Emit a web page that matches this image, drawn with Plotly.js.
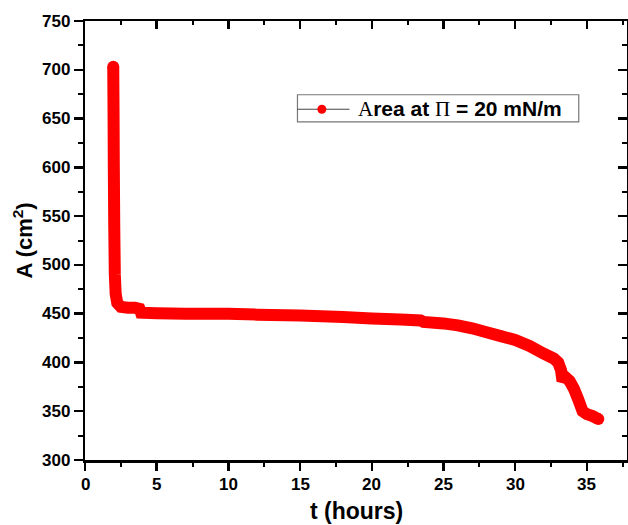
<!DOCTYPE html>
<html>
<head>
<meta charset="utf-8">
<script src="https://cdn.plot.ly/plotly-3.0.1.min.js"></script>
<style>
html,body{margin:0;padding:0;background:#fff;}
#chart{width:628px;height:525px;}
</style>
</head>
<body>
<div id="chart"></div>
<script>
// Data
const timeHours = [1.97, 1.99, 2.01, 2.04, 2.08, 2.14, 2.25, 2.5, 3.0, 3.5, 3.8, 3.9, 5, 7, 10, 12, 15, 18, 20, 22, 23.4, 23.6, 25, 26, 27, 28, 29, 30, 31, 32, 32.7, 33.0, 33.2, 33.3, 33.5, 33.8, 34.1, 34.4, 34.7, 35.0, 35.4, 35.8];
const areaCm2   = [703, 660, 600, 540, 490, 470, 461, 457, 456, 456, 455, 451, 450.5, 450, 450, 449, 448, 446.5, 445, 444, 443, 441.5, 440, 438, 435, 431, 427, 423, 417, 409, 404, 400, 392, 381, 385, 381, 373, 362, 350, 347, 345, 342];
const xTickVals = [0, 5, 10, 15, 20, 25, 30, 35];
const yTickVals = [300, 350, 400, 450, 500, 550, 600, 650, 700, 750];
const xTitle = 't (hours)';
const yTitle = 'A (cm<sup>2</sup>)';
const legendLabel = '<span style="font-family:\'Liberation Serif\',serif;font-weight:normal">A</span>rea at <span style="font-family:\'Liberation Serif\',serif;font-weight:normal">Π</span> = 20 mN/m';

const red = '#ff0000';
const sans = 'Arial, Liberation Sans, sans-serif';
const lastIdx = timeHours.length - 1;
const markerSizes = timeHours.map((_, i) => (i === 0 || i === lastIdx) ? 12 : 0);

const traces = [
  {
    x: timeHours, y: areaCm2, type: 'scatter', mode: 'lines+markers',
    line: {color: red, width: 12, shape: 'linear', simplify: false},
    marker: {color: red, size: markerSizes, opacity: 1, line: {width: 0}},
    showlegend: false, hoverinfo: 'skip'
  },
  {
    x: [], y: [], xaxis: 'x2', yaxis: 'y2', type: 'scatter', mode: 'markers',
    showlegend: false, hoverinfo: 'skip'
  }
];

const axisCommon = {
  showline: true, linecolor: '#000', linewidth: 2.5,
  showgrid: false, zeroline: false, showticklabels: false
};

// bold tick labels placed on the library's own axis scales
const tickFontB = {family: sans, size: 17, color: '#000'};
const xTickAnn = xTickVals.map(v => ({
  xref: 'x', yref: 'paper', x: v, y: 0, xanchor: 'center', yanchor: 'top', yshift: -13,
  showarrow: false, text: '<b>' + v + '</b>', font: tickFontB
}));
const yTickAnn = yTickVals.map(v => ({
  xref: 'paper', yref: 'y', x: 0, y: v, xanchor: 'right', yanchor: 'middle', xshift: -13,
  showarrow: false, text: '<b>' + v + '</b>', font: tickFontB
}));

const layout = {
  width: 628, height: 525,
  margin: {l: 85, r: 1, t: 21, b: 65},
  paper_bgcolor: '#fff', plot_bgcolor: '#fff',
  font: {family: sans, color: '#000'},
  showlegend: false,
  xaxis: Object.assign({}, axisCommon, {
    range: [0, 37.8],
    tickmode: 'array', tickvals: xTickVals,
    ticks: 'outside', ticklen: 8, tickwidth: 2.5, tickcolor: '#000',
    minor: {ticks: 'outside', ticklen: 4, tickwidth: 2, tickcolor: '#000', dtick: 2.5, tick0: 0}
  }),
  yaxis: Object.assign({}, axisCommon, {
    range: [300, 750],
    tickmode: 'array', tickvals: yTickVals,
    ticks: 'outside', ticklen: 9, tickwidth: 2.5, tickcolor: '#000',
    minor: {ticks: 'outside', ticklen: 5, tickwidth: 2, tickcolor: '#000', dtick: 25, tick0: 300}
  }),
  xaxis2: Object.assign({}, axisCommon, {
    overlaying: 'x', side: 'top', anchor: 'y2', range: [0, 37.8],
    tickmode: 'array', tickvals: xTickVals, ticks: 'inside', ticklen: 8, tickwidth: 2.5, tickcolor: '#000',
    minor: {ticks: 'inside', ticklen: 4, tickwidth: 2, tickcolor: '#000', dtick: 2.5, tick0: 0}
  }),
  yaxis2: Object.assign({}, axisCommon, {
    overlaying: 'y', side: 'right', anchor: 'x2', range: [300, 750],
    tickmode: 'array', tickvals: yTickVals, ticks: 'inside', ticklen: 9, tickwidth: 2.5, tickcolor: '#000',
    minor: {ticks: 'inside', ticklen: 5, tickwidth: 2, tickcolor: '#000', dtick: 25, tick0: 300},
    linewidth: 1.5
  }),
  shapes: [
    {type: 'rect', xref: 'paper', yref: 'paper', x0: 0.392, x1: 0.911, y0: 0.770, y1: 0.832,
     line: {color: '#777', width: 1.2}, fillcolor: 'rgba(0,0,0,0)'},
    {type: 'line', xref: 'paper', yref: 'paper', x0: 0.392, x1: 0.488, y0: 0.799, y1: 0.799,
     line: {color: '#444', width: 1}},
    {type: 'circle', xref: 'paper', yref: 'paper', xsizemode: 'pixel', ysizemode: 'pixel',
     xanchor: 0.437, yanchor: 0.799, x0: -4.5, x1: 4.5, y0: -4.5, y1: 4.5,
     line: {color: red, width: 0}, fillcolor: red}
  ],
  annotations: xTickAnn.concat(yTickAnn, [
    {xref: 'paper', yref: 'paper', x: 0.5, y: 0, xanchor: 'center', yanchor: 'middle', yshift: -51,
     showarrow: false, text: '<b>' + xTitle + '</b>', font: {family: sans, size: 23, color: '#000'}},
    {xref: 'paper', yref: 'paper', x: 0, y: 0.5, xanchor: 'center', yanchor: 'middle', xshift: -63,
     textangle: -90, showarrow: false, text: '<b>' + yTitle + '</b>', font: {family: sans, size: 22, color: '#000'}},
    {xref: 'paper', yref: 'paper', x: 0.50, y: 0.799, xanchor: 'left', yanchor: 'middle',
     showarrow: false, text: '<b>' + legendLabel + '</b>',
     font: {family: sans, size: 21, color: '#000'}}
  ])
};

Plotly.newPlot('chart', traces, layout, {staticPlot: true, displayModeBar: false});
</script>
</body>
</html>
